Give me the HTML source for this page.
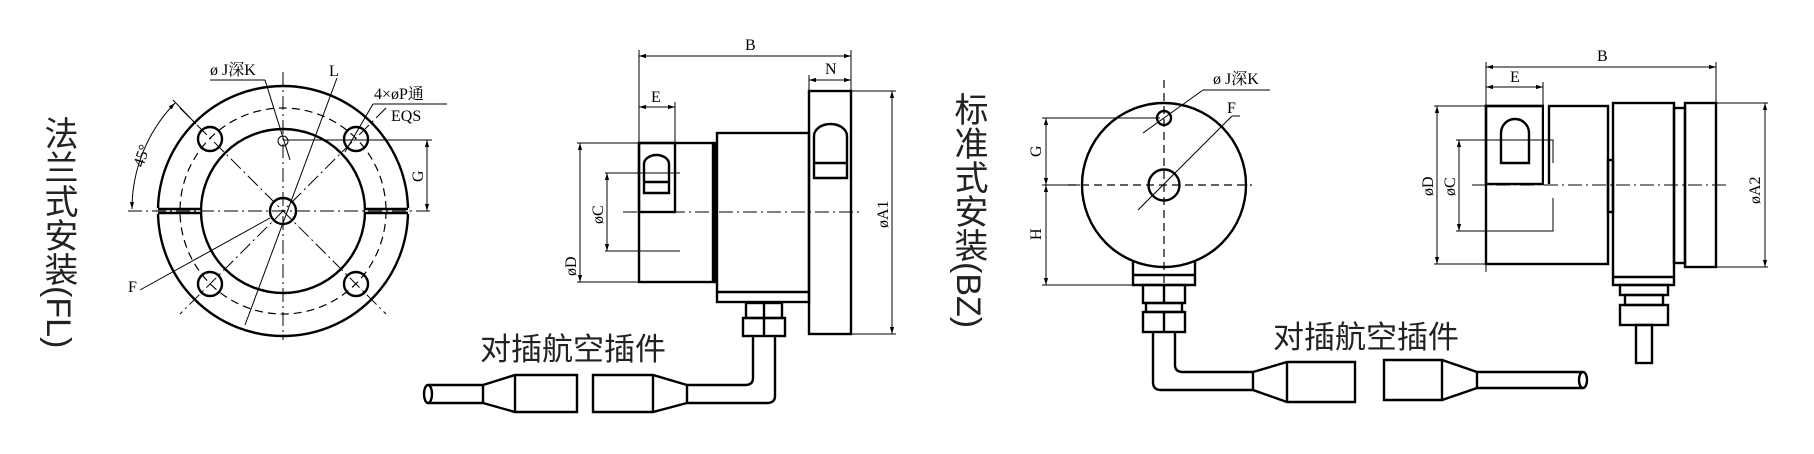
<!DOCTYPE html>
<html><head><meta charset="utf-8"><style>
html,body{margin:0;padding:0;background:#fff;}
svg{display:block;}
.o{fill:none;stroke:#000;stroke-width:2.4}
.t{fill:none;stroke:#000;stroke-width:1}
.c{fill:none;stroke:#000;stroke-width:1;stroke-dasharray:14,4,2,4}
.d{fill:none;stroke:#000;stroke-width:1.2;stroke-dasharray:8,5}
.s{font-family:"Liberation Serif","Noto Serif CJK SC",serif;font-size:16px;fill:#000}
.cn{font-family:"Liberation Sans","Noto Sans CJK SC",sans-serif;font-size:31px;fill:#222}
.v{font-family:"Liberation Sans","Noto Sans CJK SC",sans-serif;font-size:34px;fill:#222;writing-mode:vertical-rl}
</style></head><body>
<svg width="1814" height="454" viewBox="0 0 1814 454" xmlns="http://www.w3.org/2000/svg">
<defs><marker id="a" viewBox="0 0 10 10" refX="10" refY="5" markerWidth="7" markerHeight="7" orient="auto-start-reverse"><path d="M0,2 L10,5 L0,8 z" fill="#000"/></marker></defs>

<!-- FL front -->
<text class="v" x="58" y="116">法兰式安装(FL)</text>
<circle class="o" cx="283" cy="211" r="125"/>
<circle class="o" cx="283" cy="211" r="82"/>
<circle class="d" cx="283" cy="211" r="103"/>
<rect x="157" y="208" width="44" height="6" fill="#fff"/><rect x="365" y="208" width="44" height="6" fill="#fff"/>
<line class="o" x1="158" y1="209" x2="201" y2="209"/><line class="o" x1="158" y1="213" x2="201" y2="213"/>
<line class="o" x1="365" y1="209" x2="408" y2="209"/><line class="o" x1="365" y1="213" x2="408" y2="213"/>
<circle class="o" cx="283" cy="211" r="13"/>
<circle class="o" cx="210" cy="139" r="12"/><circle class="o" cx="356" cy="139" r="12"/>
<circle class="o" cx="210" cy="284" r="12"/><circle class="o" cx="356" cy="284" r="12"/>
<circle class="t" cx="283" cy="141" r="5"/>
<line class="c" x1="128" y1="211" x2="430" y2="211"/>
<line class="c" x1="283" y1="72" x2="283" y2="340"/>
<line class="c" x1="180" y1="108" x2="386" y2="314"/>
<line class="c" x1="386" y1="108" x2="180" y2="314"/>
<line class="t" x1="337" y1="78" x2="245" y2="325"/>
<line class="t" x1="210" y1="80" x2="265" y2="80"/><line class="t" x1="265" y1="80" x2="290" y2="160"/>
<text class="s" x="210" y="75">ø J深K</text>
<text class="s" x="329" y="76">L</text>
<line class="t" x1="373" y1="104" x2="447" y2="104"/><line class="t" x1="373" y1="104" x2="345" y2="152"/>
<text class="s" x="374" y="99">4×øP通</text>
<text class="s" x="391" y="121">EQS</text>
<line class="t" x1="140" y1="290" x2="270" y2="218"/>
<text class="s" x="128" y="292">F</text>
<line class="t" x1="283" y1="140" x2="432" y2="140"/>
<line class="t" x1="427" y1="140" x2="427" y2="211" marker-start="url(#a)" marker-end="url(#a)"/>
<text class="s" transform="translate(423,182) rotate(-90)">G</text>
<path class="t" d="M132,209 A152,152 0 0 1 175,103" marker-start="url(#a)" marker-end="url(#a)"/>
<line class="t" x1="173" y1="100" x2="196" y2="124"/>
<text class="s" transform="translate(143,168) rotate(-72)">45°</text>

<!-- FL side -->
<line class="t" x1="639" y1="50" x2="639" y2="143"/><line class="t" x1="851" y1="50" x2="851" y2="91"/>
<line class="t" x1="639" y1="56" x2="851" y2="56" marker-start="url(#a)" marker-end="url(#a)"/>
<text class="s" x="745" y="50">B</text>
<line class="t" x1="809" y1="75" x2="809" y2="91"/>
<line class="t" x1="809" y1="80" x2="851" y2="80" marker-start="url(#a)" marker-end="url(#a)"/>
<text class="s" x="825" y="74">N</text>
<line class="t" x1="675" y1="102" x2="675" y2="143"/>
<line class="t" x1="639" y1="107" x2="675" y2="107" marker-start="url(#a)" marker-end="url(#a)"/>
<text class="s" x="651" y="102">E</text>
<rect class="o" x="809" y="91" width="42" height="243"/>
<line class="t" x1="851" y1="91" x2="896" y2="91"/><line class="t" x1="851" y1="334" x2="896" y2="334"/>
<line class="t" x1="892" y1="91" x2="892" y2="334" marker-start="url(#a)" marker-end="url(#a)"/>
<text class="s" transform="translate(888,228) rotate(-90)">øA1</text>
<rect class="o" x="717" y="133" width="92" height="169"/>
<line class="o" x1="717" y1="292" x2="809" y2="292"/>
<rect class="o" x="639" y="143" width="76" height="139"/>
<line class="o" x1="713" y1="143" x2="713" y2="282"/>
<rect class="o" x="639" y="143" width="36" height="69"/>
<path class="o" d="M644,193 V164 A12.5,9 0 0 1 669,164 V193 Z"/><line class="o" x1="644" y1="182" x2="669" y2="182"/>
<path class="o" d="M814,178 V136 A16.5,12 0 0 1 847,136 V178 Z"/><line class="o" x1="814" y1="163" x2="847" y2="163"/>
<line class="c" x1="623" y1="212" x2="862" y2="212"/>
<line class="t" x1="605" y1="173" x2="680" y2="173"/><line class="t" x1="605" y1="251" x2="680" y2="251"/>
<line class="t" x1="607" y1="173" x2="607" y2="251" marker-start="url(#a)" marker-end="url(#a)"/>
<text class="s" transform="translate(603,224) rotate(-90)">øC</text>
<line class="t" x1="577" y1="143" x2="639" y2="143"/><line class="t" x1="577" y1="282" x2="639" y2="282"/>
<line class="t" x1="580" y1="143" x2="580" y2="282" marker-start="url(#a)" marker-end="url(#a)"/>
<text class="s" transform="translate(576,276) rotate(-90)">øD</text>
<rect class="o" x="746" y="303" width="36" height="15"/><line class="o" x1="764" y1="303" x2="764" y2="318"/>
<rect class="o" x="743" y="318" width="42" height="18"/><line class="o" x1="764" y1="318" x2="764" y2="336"/>
<path class="o" d="M753,337 V378 Q753,385 745,385 H687 M775,337 V396 Q775,403 767,403 H687"/>
<path class="o" d="M687,385 V403 L653,412 H593 V375 H653 Z"/><line class="o" x1="653" y1="375" x2="653" y2="412"/>
<path class="o" d="M483,385 V403 L515,412 H577 V375 H515 Z"/><line class="o" x1="515" y1="375" x2="515" y2="412"/>
<path class="o" d="M483,385 H428 M483,403 H428"/><ellipse class="o" cx="428" cy="394" rx="4" ry="9"/>
<text class="cn" x="480" y="360">对插航空插件</text>

<!-- BZ front -->
<text class="v" x="968" y="92">标准式安装(BZ)</text>
<circle class="o" cx="1164" cy="185" r="82"/>
<circle class="o" cx="1164" cy="185" r="15.5"/>
<circle class="o" cx="1164" cy="118" r="7"/>
<line class="d" x1="1068" y1="185" x2="1252" y2="185"/>
<line class="d" x1="1164" y1="80" x2="1164" y2="285"/>
<line class="t" x1="1138" y1="210" x2="1232" y2="116"/>
<line class="t" x1="1232" y1="116" x2="1240" y2="116"/>
<text class="s" x="1227" y="113">F</text>
<line class="t" x1="1203" y1="90" x2="1270" y2="90"/><line class="t" x1="1203" y1="90" x2="1143" y2="133"/>
<text class="s" x="1213" y="84">ø J深K</text>
<line class="t" x1="1042" y1="118" x2="1160" y2="118"/><line class="t" x1="1042" y1="185" x2="1080" y2="185"/><line class="t" x1="1042" y1="285" x2="1133" y2="285"/>
<line class="t" x1="1046" y1="118" x2="1046" y2="185" marker-start="url(#a)" marker-end="url(#a)"/>
<line class="t" x1="1046" y1="185" x2="1046" y2="285" marker-start="url(#a)" marker-end="url(#a)"/>
<text class="s" transform="translate(1041,157) rotate(-90)">G</text>
<text class="s" transform="translate(1041,240) rotate(-90)">H</text>
<path class="o" d="M1133,262 V285 H1195 V262"/><line class="o" x1="1133" y1="275" x2="1195" y2="275"/>
<rect class="o" x="1143" y="285" width="42" height="18"/><line class="o" x1="1164" y1="285" x2="1164" y2="303"/>
<rect class="o" x="1146" y="303" width="36" height="9"/>
<rect class="o" x="1143" y="312" width="42" height="20"/><line class="o" x1="1164" y1="312" x2="1164" y2="332"/>
<path class="o" d="M1153,333 V382 Q1153,390 1161,390 H1253 M1175,333 V365 Q1175,372 1183,372 H1253"/>
<path class="o" d="M1253,372 V390 L1287,402 H1355 V362 H1287 Z"/><line class="o" x1="1287" y1="362" x2="1287" y2="402"/>
<path class="o" d="M1384,360 H1442 L1477,372 V388 L1442,400 H1384 Z"/><line class="o" x1="1442" y1="360" x2="1442" y2="400"/>
<path class="o" d="M1477,372 H1583 M1477,388 H1583"/><ellipse class="o" cx="1583" cy="380" rx="4" ry="8"/>
<text class="cn" x="1273" y="348">对插航空插件</text>

<!-- BZ side -->
<line class="t" x1="1486" y1="62" x2="1486" y2="272"/><line class="t" x1="1716" y1="62" x2="1716" y2="103"/>
<line class="t" x1="1486" y1="67" x2="1716" y2="67" marker-start="url(#a)" marker-end="url(#a)"/>
<text class="s" x="1597" y="61">B</text>
<line class="t" x1="1543" y1="82" x2="1543" y2="106"/>
<line class="t" x1="1486" y1="87" x2="1543" y2="87" marker-start="url(#a)" marker-end="url(#a)"/>
<text class="s" x="1510" y="82">E</text>
<rect class="o" x="1486" y="106" width="122" height="158"/>
<rect class="o" x="1486" y="106" width="57" height="78"/>
<rect x="1544" y="104" width="4" height="80" fill="#fff"/>
<line class="o" x1="1549" y1="106" x2="1549" y2="184"/>
<path class="o" d="M1501,163 V133 A14,14 0 0 1 1529,133 V163 Z"/>
<rect class="o" x="1613" y="103" width="61" height="182"/><line class="o" x1="1613" y1="277" x2="1674" y2="277"/>
<rect class="o" x="1608" y="160" width="5" height="52"/>
<rect class="o" x="1674" y="108" width="11" height="155"/>
<rect class="o" x="1685" y="103" width="31" height="164"/>
<line class="c" x1="1472" y1="185" x2="1728" y2="185"/>
<line class="t" x1="1716" y1="103" x2="1768" y2="103"/><line class="t" x1="1716" y1="267" x2="1768" y2="267"/>
<line class="t" x1="1765" y1="103" x2="1765" y2="267" marker-start="url(#a)" marker-end="url(#a)"/>
<text class="s" transform="translate(1760,204) rotate(-90)">øA2</text>
<line class="t" x1="1434" y1="106" x2="1486" y2="106"/><line class="t" x1="1434" y1="264" x2="1486" y2="264"/>
<line class="t" x1="1437" y1="106" x2="1437" y2="264" marker-start="url(#a)" marker-end="url(#a)"/>
<path class="t" d="M1456,140 H1553 V163 M1456,231 H1553 V198"/>
<line class="t" x1="1459" y1="140" x2="1459" y2="231" marker-start="url(#a)" marker-end="url(#a)"/>
<text class="s" transform="translate(1433,196) rotate(-90)">øD</text>
<text class="s" transform="translate(1455,196) rotate(-90)">øC</text>
<rect class="o" x="1620" y="285" width="48" height="10"/>
<rect class="o" x="1625" y="295" width="38" height="10"/>
<rect class="o" x="1620" y="305" width="48" height="20"/>
<rect class="o" x="1636" y="325" width="16" height="38"/>
</svg>
</body></html>
